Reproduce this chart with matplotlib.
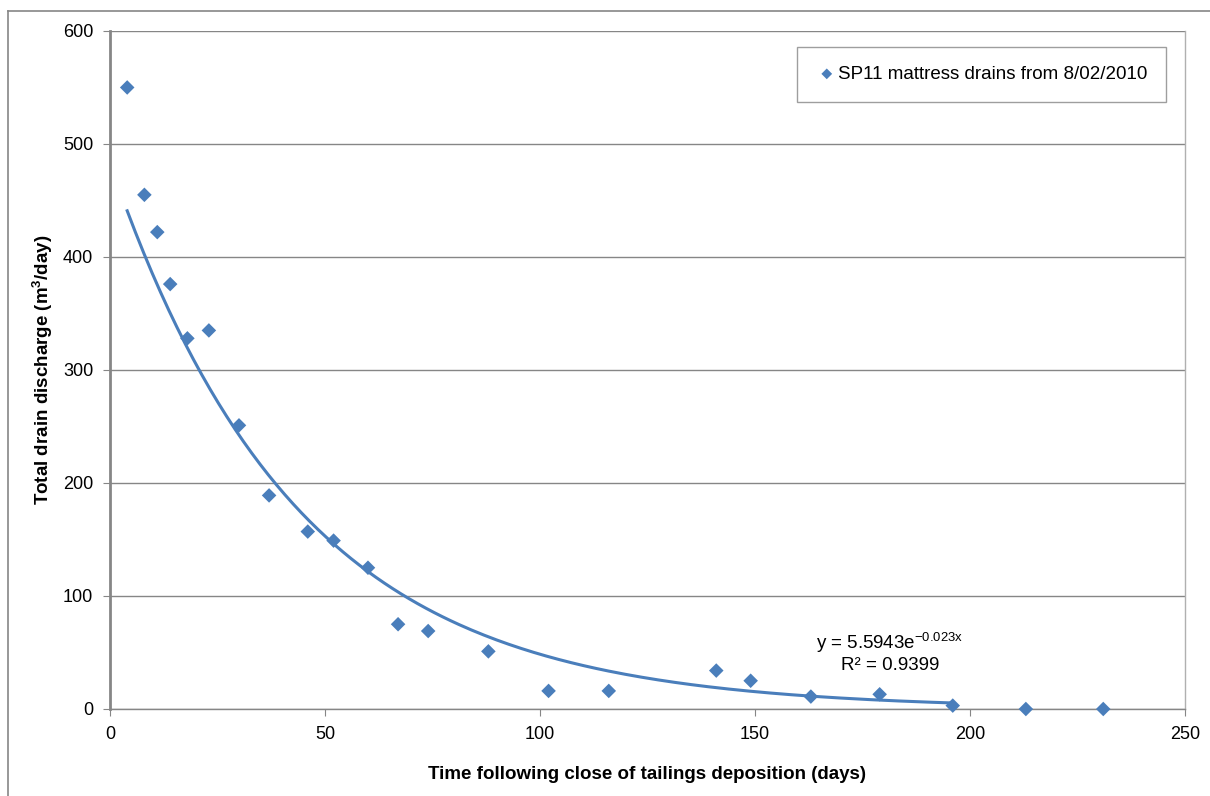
import numpy as np
import matplotlib
matplotlib.use("Agg")
import matplotlib.pyplot as plt
from matplotlib.lines import Line2D

plt.rcParams['font.family'] = ['Liberation Sans', 'DejaVu Sans']
plt.rcParams['mathtext.default'] = 'regular'
plt.rcParams['axes.unicode_minus'] = False

# days after deposition closed, and measured drain flow (m3/day)
days = [4, 8, 11, 14, 18, 23, 30, 37, 46, 52, 60, 67, 74, 88, 102, 116,
        141, 149, 163, 179, 196, 213, 231]
flow = [550, 455, 422, 376, 328, 335, 251, 189, 157, 149, 125, 75, 69, 51,
        16, 16, 34, 25, 11, 13, 3, 0, 0]

# exponential trend fitted in L/s, converted to m3/day for the plot
fit_a = 5.5943
fit_b = -0.023
fit_r2 = 0.9399
ls_to_m3day = 86.4

blue = '#4a7ebb'
grey = '#868686'

fig = plt.figure(figsize=(12.1, 7.96), dpi=100)
ax = fig.add_axes([0.0909, 0.1093, 0.8884, 0.8518])

# chart area frame (top and left edges)
fig.add_artist(Line2D([8/1210, 1], [1 - 11/796, 1 - 11/796], color=grey, lw=1.2,
                      transform=fig.transFigure))
fig.add_artist(Line2D([8/1210, 8/1210], [0, 1 - 11/796], color=grey, lw=1.2,
                      transform=fig.transFigure))

xt = np.linspace(days[0], days[20], 200)
yt = fit_a * ls_to_m3day * np.exp(fit_b * xt)
ax.plot(xt, yt, color=blue, lw=2.2, zorder=2)

ax.scatter(days, flow, marker='D', s=55, color=blue, edgecolors='none', zorder=3,
           label='SP11 mattress drains from 8/02/2010', clip_on=False)

ax.set_xlim(0, 250)
ax.set_ylim(0, 600)
ax.set_xticks(range(0, 251, 50))
ax.set_yticks(range(0, 601, 100))
ax.grid(axis='y', color=grey, lw=1)
ax.set_axisbelow(True)

ax.spines['top'].set_visible(False)
ax.spines['left'].set_color(grey)
ax.spines['left'].set_linewidth(2)
ax.spines['bottom'].set_color(grey)
ax.spines['bottom'].set_linewidth(1)
ax.spines['right'].set_color('#b0b0b0')
ax.spines['right'].set_linewidth(1)

ax.tick_params(axis='both', direction='out', length=5, color=grey, labelsize=13,
               pad=7)

ax.set_xlabel('Time following close of tailings deposition (days)', fontsize=13.5,
              fontweight='bold', labelpad=17)
ax.set_ylabel('Total drain discharge (m$^3$/day)', fontsize=13.5,
              fontweight='bold', labelpad=6)

ax.text(890, 796 - 652, 'y = %.4fe$^{%.3fx}$\nR² = %.4f' % (fit_a, fit_b, fit_r2),
        transform=None, ha='center', va='center', fontsize=13.5, linespacing=1.15)

leg = ax.legend(loc='upper right', bbox_to_anchor=(0.9825, 0.9765), fontsize=13.5,
                handletextpad=0.0, borderpad=1.0, handlelength=1.2,
                fancybox=False, borderaxespad=0)
leg.get_frame().set_edgecolor(grey)
leg.get_frame().set_linewidth(1)
leg.legend_handles[0].set_sizes([30])

fig.savefig('out.png', dpi=100)
